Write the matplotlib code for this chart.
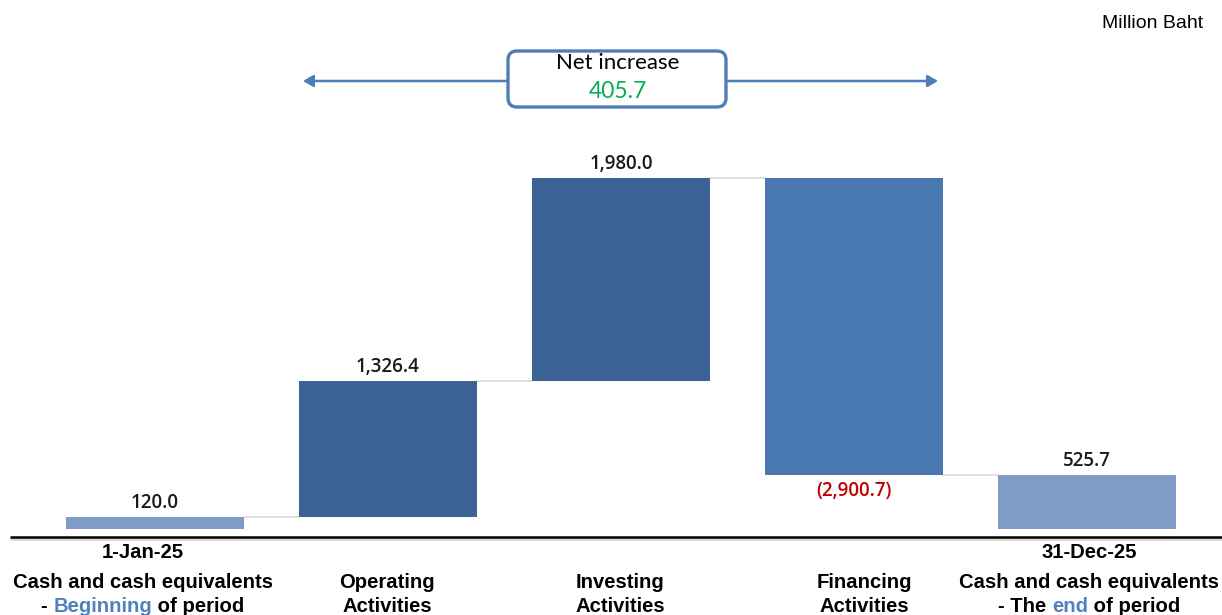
import numpy as np
import matplotlib
matplotlib.use("Agg")
import matplotlib.pyplot as plt
import matplotlib.transforms as mtransforms
from matplotlib.patches import FancyBboxPatch, FancyArrowPatch

# data (Million Baht)
steps = ["begin", "operating", "investing", "financing", "end"]
changes = [120.0, 1326.4, 1980.0, -2900.7]
net_increase = 405.7
value_labels = ["120.0", "1,326.4", "1,980.0", "(2,900.7)", "525.7"]
dates = ["1-Jan-25", "", "", "", "31-Dec-25"]
cat_lines = [["Cash and cash equivalents", ("- ", "Beginning", " of period")],
             ["Operating", "Activities"],
             ["Investing", "Activities"],
             ["Financing", "Activities"],
             ["Cash and cash equivalents", ("- The ", "end", " of period")]]

c_light = "#7F9CC8"
c_dark = "#3C6395"
c_fin = "#4977B0"
colors = [c_light, c_dark, c_dark, c_fin, c_light]

cum = np.cumsum(changes)
ending = cum[-1]
bottoms = [0, cum[0], cum[1], cum[3], 0]
heights = [changes[0], changes[1], changes[2], -changes[3], ending]
tops = [b + h for b, h in zip(bottoms, heights)]

W, H = 1222, 615
fig = plt.figure(figsize=(W / 100, H / 100), dpi=100)
ax = fig.add_axes([0, 0, 1, 1])
x = np.arange(len(steps))
ppu = 0.10253  # pixels per unit
zero_px = 529.3
ax.set_xlim(-155 / 233, (W - 155) / 233)
ax.set_ylim((zero_px - H) / ppu, zero_px / ppu)
ax.axis("off")

def fy(py):
    return 1 - py / H

bt = mtransforms.blended_transform_factory(ax.transData, fig.transFigure)

ax.bar(x, heights, bottom=bottoms, width=0.765, color=colors, zorder=3)

# connectors
levels = [cum[0], cum[1], cum[2], ending]
for i, lv in enumerate(levels):
    ax.plot([i + 0.3825, i + 1 - 0.3825], [lv, lv], color="#D9D9D9", lw=1.2, zorder=2)

# baseline with shadow
base = (zero_px - 537) / ppu
ax.plot([-145 / 233, 5], [base - 22, base - 22], color="#BFBFBF", lw=2, alpha=0.6, zorder=2,
        solid_capstyle="butt")
ax.plot([-145 / 233, 5], [base, base], color="black", lw=1.8, zorder=3, solid_capstyle="butt")

# value labels
vfont = dict(family="Open Sans", fontsize=13.5, fontweight="semibold")
for i in range(len(steps)):
    if i == 3:
        ax.text(x[i], bottoms[i] - 150, value_labels[i], ha="center", va="center",
                color="#C00000", **vfont)
    else:
        ax.text(x[i], tops[i] + 140, value_labels[i], ha="center", va="center",
                color="#1A1A1A", **vfont)

# category labels (small horizontal nudges, in px)
label_dx = [-12, -1, -1, 10, 2]
lfont = dict(family="Liberation Sans", fontsize=14.6, fontweight="bold")
fig.canvas.draw()
rend = fig.canvas.get_renderer()
dpp = (ax.get_xlim()[1] - ax.get_xlim()[0]) / W

def text_width(s):
    t = ax.text(0, 0, s, **lfont)
    w = t.get_window_extent(rend).width
    t.remove()
    return w

for i in range(len(steps)):
    cx = x[i] + label_dx[i] * dpp
    if dates[i]:
        ax.text(cx, fy(553), dates[i], transform=bt, ha="center", va="center",
                color="black", **lfont)
    for j, line in enumerate(cat_lines[i]):
        yy = fy(583 + 23 * j)
        if isinstance(line, tuple):
            total = text_width("".join(line))
            x0 = cx - total * dpp / 2
            for k, piece in enumerate(line):
                col = "#4F81BD" if k == 1 else "black"
                ax.text(x0, yy, piece, transform=bt, ha="left", va="center",
                        color=col, **lfont)
                x0 += text_width(piece.replace(" ", "\u00a0")) * dpp
        else:
            ax.text(cx, yy, line, transform=bt, ha="center", va="center",
                    color="black", **lfont)

# unit
fig.text(1203 / W, fy(24), "Million Baht", ha="right", va="center",
         family="Liberation Sans", fontsize=14, color="black")

# net increase arrow and box
arr = FancyArrowPatch(((303 - 155) / 233, fy(81)), ((938 - 155) / 233, fy(81)),
                      transform=bt, arrowstyle="<|-|>,head_length=6,head_width=3.5",
                      color="#4F7DB8", lw=1.8, zorder=4, shrinkA=0, shrinkB=0)
ax.add_patch(arr)
box = FancyBboxPatch((508, H - 107), 218, 56,
                     boxstyle="round,pad=0,rounding_size=9",
                     transform=mtransforms.IdentityTransform(),
                     facecolor="white", edgecolor="#4F7DB8", lw=2.4, zorder=5)
ax.add_patch(box)
ax.text(x[2] - 3 / 233, fy(63), "Net increase", transform=bt, ha="center", va="center",
        family="Lato", fontsize=16, color="black", zorder=6)
ax.text(x[2] - 3 / 233, fy(92), f"{net_increase:,.1f}", transform=bt, ha="center",
        va="center", family="Lato", fontsize=16.5, color="#00B050", zorder=6)

fig.savefig("out.png", dpi=100)
